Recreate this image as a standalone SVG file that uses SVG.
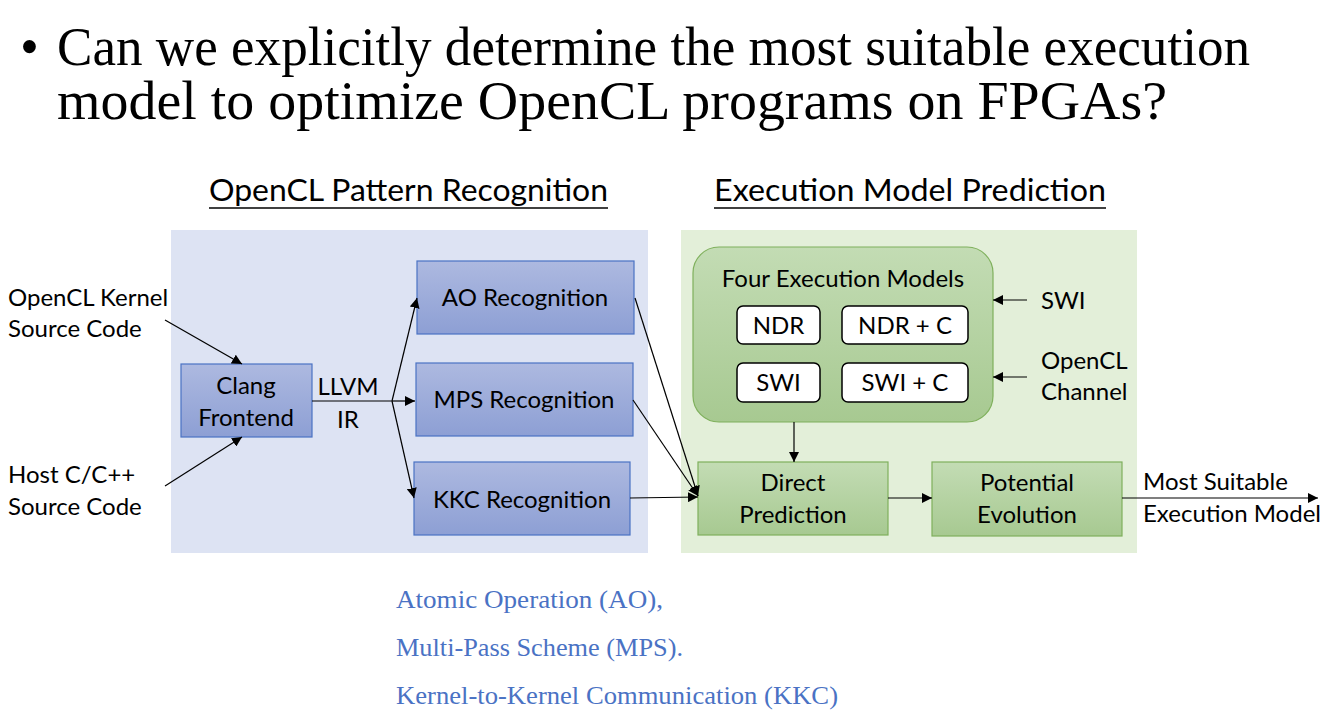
<svg xmlns="http://www.w3.org/2000/svg" width="1336" height="726" viewBox="0 0 1336 726">
<defs>
<linearGradient id="gBlue" x1="0" y1="0" x2="0" y2="1"><stop offset="0" stop-color="#adb9e0"/><stop offset="1" stop-color="#8d9fd4"/></linearGradient>
<linearGradient id="gGreen" x1="0" y1="0" x2="0" y2="1"><stop offset="0" stop-color="#c3dcb4"/><stop offset="1" stop-color="#a7c991"/></linearGradient>
<marker id="ah" viewBox="0 0 10 10" refX="10" refY="5" markerWidth="10" markerHeight="10" markerUnits="userSpaceOnUse" orient="auto"><path d="M0,0 L10,5 L0,10 z" fill="#000"/></marker>
</defs>
<style>
.t{font-family:Lato,"Open Sans","Liberation Sans",sans-serif;fill:#000;font-size:24px}
.h{font-family:Lato,"Open Sans","Liberation Sans",sans-serif;fill:#000;font-size:31px}
.serif{font-family:"Liberation Serif","Times New Roman",serif}
.bbox{fill:url(#gBlue);stroke:#4a72c4;stroke-width:1.2}
.gbox{fill:url(#gGreen);stroke:#7fb05c;stroke-width:1.2}
.wbox{fill:#fff;stroke:#000;stroke-width:1.5}
.ln{stroke:#000;stroke-width:1.2;fill:none}
.ar{stroke:#000;stroke-width:1.2;fill:none;marker-end:url(#ah)}
.note{font-family:"Liberation Serif","Times New Roman",serif;fill:#4a72c4;font-size:25px}
</style>
<rect width="1336" height="726" fill="#fff"/>
<g id="title">
<text class="serif" x="20" y="65" font-size="54">•</text>
<text class="serif" x="57" y="65" font-size="54" textLength="1193" lengthAdjust="spacingAndGlyphs">Can we explicitly determine the most suitable execution</text>
<text class="serif" x="57" y="119" font-size="54" textLength="1110" lengthAdjust="spacingAndGlyphs">model to optimize OpenCL programs on FPGAs?</text>
</g>
<g id="panels">
<rect x="171" y="230" width="477" height="323" fill="#dde3f3"/>
<rect x="681" y="230" width="456" height="323" fill="#e3efd9"/>
</g>
<g id="headings">
<text class="h" x="209" y="201" textLength="399" lengthAdjust="spacingAndGlyphs">OpenCL Pattern Recognition</text>
<line x1="209" y1="208" x2="608" y2="208" stroke="#000" stroke-width="1.6"/>
<text class="h" x="714" y="201" textLength="392" lengthAdjust="spacingAndGlyphs">Execution Model Prediction</text>
<line x1="714" y1="208" x2="1106" y2="208" stroke="#000" stroke-width="1.6"/>
</g>
<g id="inputs">
<text class="t" x="8" y="306">OpenCL Kernel</text>
<text class="t" x="8" y="337">Source Code</text>
<text class="t" x="8" y="483">Host C/C++</text>
<text class="t" x="8" y="515">Source Code</text>
</g>
<g id="clang">
<rect class="bbox" x="181" y="364" width="131" height="73"/>
<text class="t" x="246" y="394" text-anchor="middle">Clang</text>
<text class="t" x="246" y="426" text-anchor="middle">Frontend</text>
</g>
<g id="llvm-label">
<text class="t" x="348" y="395" text-anchor="middle">LLVM</text>
<text class="t" x="348" y="428" text-anchor="middle">IR</text>
</g>
<g id="ao">
<rect class="bbox" x="417" y="261" width="217" height="73"/>
<text class="t" x="525" y="306" text-anchor="middle">AO Recognition</text>
</g>
<g id="mps">
<rect class="bbox" x="416" y="363" width="217" height="73"/>
<text class="t" x="524" y="408" text-anchor="middle">MPS Recognition</text>
</g>
<g id="kkc">
<rect class="bbox" x="414" y="462" width="216" height="73"/>
<text class="t" x="522" y="508" text-anchor="middle">KKC Recognition</text>
</g>
<g id="four-models">
<rect class="gbox" x="693" y="247" width="300" height="175" rx="26"/>
<text class="t" x="843" y="287" text-anchor="middle">Four Execution Models</text>
<g id="ndr"><rect class="wbox" x="737" y="306" width="83" height="38" rx="6"/><text class="t" x="778.5" y="334" text-anchor="middle">NDR</text></g>
<g id="ndrc"><rect class="wbox" x="842" y="306" width="126" height="38" rx="6"/><text class="t" x="905" y="334" text-anchor="middle">NDR + C</text></g>
<g id="swi"><rect class="wbox" x="737" y="363" width="83" height="39" rx="6"/><text class="t" x="778.5" y="391" text-anchor="middle">SWI</text></g>
<g id="swic"><rect class="wbox" x="842" y="363" width="126" height="39" rx="6"/><text class="t" x="905" y="391" text-anchor="middle">SWI + C</text></g>
</g>
<g id="direct">
<rect class="gbox" x="698" y="462" width="190" height="73"/>
<text class="t" x="793" y="491" text-anchor="middle">Direct</text>
<text class="t" x="793" y="523" text-anchor="middle">Prediction</text>
</g>
<g id="potential">
<rect class="gbox" x="932" y="462" width="190" height="74"/>
<text class="t" x="1027" y="491" text-anchor="middle">Potential</text>
<text class="t" x="1027" y="523" text-anchor="middle">Evolution</text>
</g>
<g id="side-labels">
<text class="t" x="1041" y="309">SWI</text>
<text class="t" x="1041" y="369">OpenCL</text>
<text class="t" x="1041" y="400">Channel</text>
<text class="t" x="1143" y="490">Most Suitable</text>
<text class="t" x="1143" y="522">Execution Model</text>
</g>
<g id="connectors">
<line class="ar" x1="165" y1="320" x2="242" y2="364"/>
<line class="ar" x1="165" y1="486" x2="242" y2="437"/>
<line class="ln" x1="312" y1="401" x2="392" y2="401"/>
<line class="ar" x1="392" y1="401" x2="417" y2="298"/>
<line class="ar" x1="392" y1="401" x2="415" y2="401"/>
<line class="ar" x1="392" y1="401" x2="414" y2="498"/>
<line class="ar" x1="635" y1="298" x2="698" y2="496"/>
<line class="ar" x1="633" y1="400" x2="698" y2="496"/>
<line class="ar" x1="630" y1="498" x2="698" y2="497"/>
<line class="ar" x1="794" y1="422" x2="794" y2="462"/>
<line class="ar" x1="888" y1="498" x2="932" y2="498"/>
<line class="ar" x1="1122" y1="498" x2="1318" y2="498"/>
<line class="ar" x1="1027" y1="300" x2="993" y2="300"/>
<line class="ar" x1="1027" y1="377" x2="993" y2="377"/>
</g>
<g id="notes">
<text class="note" x="396" y="608" textLength="267" lengthAdjust="spacingAndGlyphs">Atomic Operation (AO),</text>
<text class="note" x="396" y="656" textLength="287" lengthAdjust="spacingAndGlyphs">Multi-Pass Scheme (MPS).</text>
<text class="note" x="396" y="704" textLength="442" lengthAdjust="spacingAndGlyphs">Kernel-to-Kernel Communication (KKC)</text>
</g>
</svg>
